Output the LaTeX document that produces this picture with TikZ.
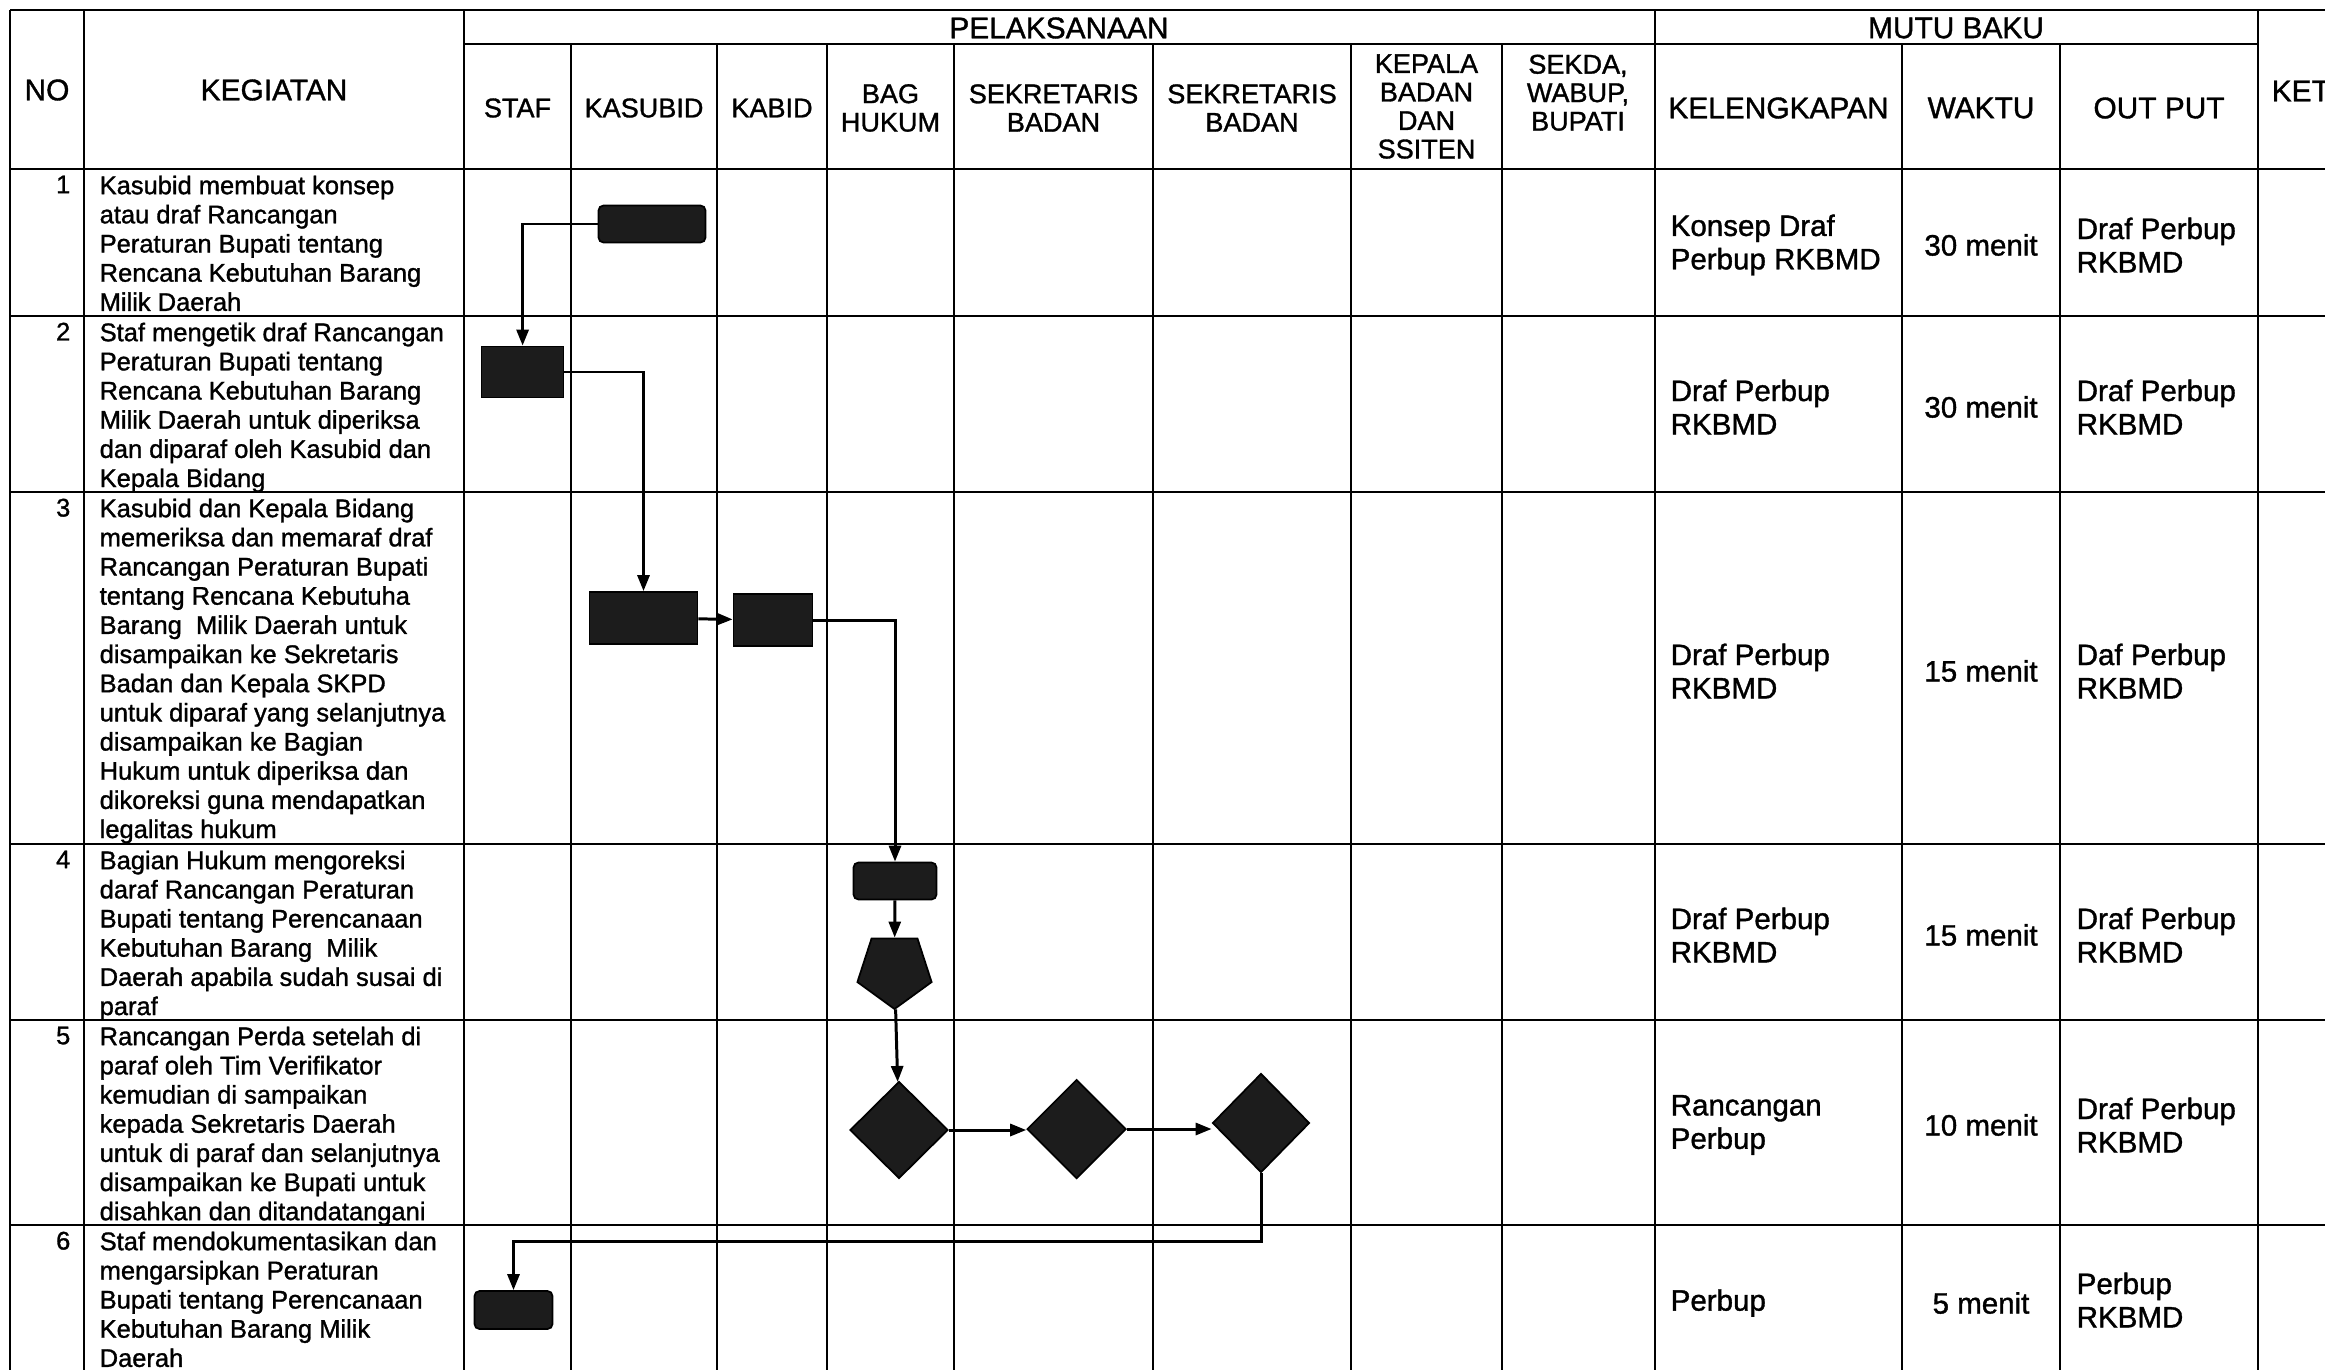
\documentclass[tikz,border=0pt]{standalone}
\usepackage{fontspec}
\setmainfont{Liberation Sans}[FakeBold=1.2]
\usetikzlibrary{positioning, arrows.meta, shapes.geometric}
\definecolor{shapeFill}{HTML}{1C1C1C}

\begin{document}
\begin{tikzpicture}[
    x=0.1mm, y=-0.1mm,
    >={Triangle[length=1.6mm, width=1.2mm]},
    gridLine/.style={line width=0.75pt},
    flow/.style={->, line width=0.85pt},
    headText/.style={align=center, inner sep=0pt, font=\fontsize{7.7}{8.1}\selectfont},
    bigHead/.style={headText, font=\fontsize{8.5}{9}\selectfont},
    actText/.style={align=left, inner sep=0pt, anchor=north west, font=\fontsize{7.25}{8.3}\selectfont},
    numText/.style={inner sep=0pt, anchor=north east, font=\fontsize{7.25}{8.3}\selectfont},
    stdText/.style={align=left, inner sep=0pt, anchor=west, font=\fontsize{8.4}{9.5}\selectfont},
    timeText/.style={inner sep=0pt, font=\fontsize{8.4}{9.5}\selectfont},
    act/.style={draw=black, fill=shapeFill, inner sep=0pt, line width=0.5pt},
    actRound/.style={act, rounded corners=0.5mm},
    decide/.style={act, diamond, aspect=1},
    check/.style={act, regular polygon, regular polygon sides=5, shape border rotate=180, minimum size=7.8mm}
]

\fill[white] (0,0) rectangle (2325,1370);
\useasboundingbox (0,0) rectangle (2325,1370);

% table grid
\draw[gridLine] (10,10) -- (2325,10);
\draw[gridLine] (464,44) -- (2258,44);
\foreach \y in {169,316,492,844,1020,1225}
    \draw[gridLine] (10,\y) -- (2325,\y);
\foreach \x in {10,84,464,1655,2258}
    \draw[gridLine] (\x,10) -- (\x,1370);
\foreach \x in {571,717,827,954,1153,1351,1502,1902,2060}
    \draw[gridLine] (\x,44) -- (\x,1370);

% header
\node[bigHead] (no) at (47,90) {NO};
\node[bigHead] (keg) at (274,90) {KEGIATAN};
\node[bigHead] (pel) at (1059,28) {PELAKSANAAN};
\node[bigHead] (mutu) at (1956,28) {MUTU BAKU};
\node[bigHead, anchor=west] (ket) at (2271,91) {KET};

\node[headText] (staf) at (517.5,108) {STAF};
\node[headText] (kasubid) at (644,108) {KASUBID};
\node[headText] (kabid) at (772,108) {KABID};
\node[headText] (hukum) at (890.5,108) {BAG\\HUKUM};
\node[headText] (sekA) at (1053.5,108) {SEKRETARIS\\BADAN};
\node[headText] (sekB) at (1252,108) {SEKRETARIS\\BADAN};
\node[headText] (kepala) at (1426.5,106.5) {KEPALA\\BADAN\\DAN\\SSITEN};
\node[headText, anchor=north] (sekda) at (1578,54) {SEKDA,\\WABUP,\\BUPATI};
\node[bigHead] (kel) at (1778.5,108) {KELENGKAPAN};
\node[bigHead] (waktu) at (1981,108) {WAKTU};
\node[bigHead] (out) at (2159,108) {OUT PUT};

% kegiatan
\node[numText] (n1) at (71,175) {1};
\node[actText] (t1) at (99,175) {Kasubid membuat konsep\\atau draf Rancangan\\Peraturan Bupati tentang\\Rencana Kebutuhan Barang\\Milik Daerah};
\node[numText] (n2) at (71,322) {2};
\node[actText] (t2) at (99,322) {Staf mengetik draf Rancangan\\Peraturan Bupati tentang\\Rencana Kebutuhan Barang\\Milik Daerah untuk diperiksa\\dan diparaf oleh Kasubid dan\\Kepala Bidang};
\node[numText] (n3) at (71,498) {3};
\node[actText] (t3) at (99,498) {Kasubid dan Kepala Bidang\\memeriksa dan memaraf draf\\Rancangan Peraturan Bupati\\tentang Rencana Kebutuha\\Barang~ Milik Daerah untuk\\disampaikan ke Sekretaris\\Badan dan Kepala SKPD\\untuk diparaf yang selanjutnya\\disampaikan ke Bagian\\Hukum untuk diperiksa dan\\dikoreksi guna mendapatkan\\legalitas hukum};
\node[numText] (n4) at (71,850) {4};
\node[actText] (t4) at (99,850) {Bagian Hukum mengoreksi\\daraf Rancangan Peraturan\\Bupati tentang Perencanaan\\Kebutuhan Barang~ Milik\\Daerah apabila sudah susai di\\paraf};
\node[numText] (n5) at (71,1026) {5};
\node[actText] (t5) at (99,1026) {Rancangan Perda setelah di\\paraf oleh Tim Verifikator\\kemudian di sampaikan\\kepada Sekretaris Daerah\\untuk di paraf dan selanjutnya\\disampaikan ke Bupati untuk\\disahkan dan ditandatangani};
\node[numText] (n6) at (71,1231) {6};
\node[actText] (t6) at (99,1231) {Staf mendokumentasikan dan\\mengarsipkan Peraturan\\Bupati tentang Perencanaan\\Kebutuhan Barang Milik\\Daerah};

% mutu baku
\node[stdText] (k1) at (1670,245) {Konsep Draf\\Perbup RKBMD};
\node[timeText] (w1) at (1981,245) {30 menit};
\node[stdText] (o1) at (2076,245) {Draf Perbup\\RKBMD};
\node[stdText] (k2) at (1670,407) {Draf Perbup\\RKBMD};
\node[timeText] (w2) at (1981,407) {30 menit};
\node[stdText] (o2) at (2076,407) {Draf Perbup\\RKBMD};
\node[stdText] (k3) at (1670,671) {Draf Perbup\\RKBMD};
\node[timeText] (w3) at (1981,671) {15 menit};
\node[stdText] (o3) at (2076,671) {Daf Perbup\\RKBMD};
\node[stdText] (k4) at (1670,935) {Draf Perbup\\RKBMD};
\node[timeText] (w4) at (1981,935) {15 menit};
\node[stdText] (o4) at (2076,935) {Draf Perbup\\RKBMD};
\node[stdText] (k5) at (1670,1125) {Rancangan\\Perbup};
\node[timeText] (w5) at (1981,1125) {10 menit};
\node[stdText] (o5) at (2076,1125) {Draf Perbup\\RKBMD};
\node[stdText] (k6) at (1670,1303) {Perbup};
\node[timeText] (w6) at (1981,1303) {5 menit};
\node[stdText] (o6) at (2076,1300) {Perbup\\RKBMD};

% flow symbols
\node[actRound, minimum width=10.7mm, minimum height=3.7mm] (konsep) at (652,224) {};
\node[act, minimum width=8.2mm, minimum height=5.1mm] (ketik) at (522.6,372) {};
\node[act, minimum width=10.8mm, minimum height=5.2mm] (periksa) at (643.5,618) {};
\node[act, minimum width=7.9mm, minimum height=5.2mm] (paraf) at (773,620) {};
\node[actRound, minimum width=8.3mm, minimum height=3.7mm] (koreksi) at (895,881) {};
\node[check] (cek) at (894.5,970) {};
\node[decide, minimum width=9.8mm, minimum height=9.7mm] (verif) at (899,1130) {};
\node[decide, minimum width=9.9mm, minimum height=9.9mm] (sekd) at (1076.6,1129) {};
\node[decide, minimum width=9.7mm, minimum height=9.9mm] (bupati) at (1261,1123) {};
\node[actRound, minimum width=7.8mm, minimum height=3.8mm] (arsip) at (513.5,1310) {};

\draw[flow] (konsep.west) -| (ketik);
\draw[flow] (ketik.east) -| (periksa);
\draw[flow] (periksa) -- (paraf);
\draw[flow] (paraf.east) -| (koreksi);
\draw[flow] (koreksi) -- (cek);
\draw[flow] (cek) -- (verif);
\draw[flow] (verif.east) -- (verif.east -| sekd.west);
\draw[flow] (sekd.east) -- (sekd.east -| bupati.west);
\draw[flow] (bupati.south) -- ++(0,68) -| (arsip);

\end{tikzpicture}
\end{document}
